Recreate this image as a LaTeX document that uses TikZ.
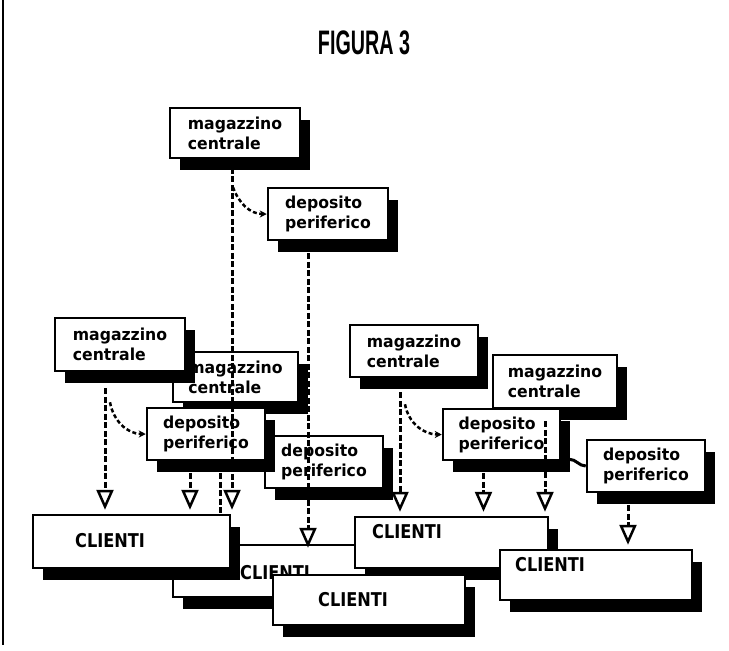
\documentclass[tikz,border=0pt]{standalone}
\usepackage{fontspec}
\usetikzlibrary{shadows,arrows.meta,calc}
\newfontfamily\titlefont[FakeStretch=0.58]{Liberation Sans}
\newfontfamily\boxfont[FakeStretch=0.95]{DejaVu Sans}
\newfontfamily\clifont[FakeStretch=0.85]{DejaVu Sans}
\begin{document}
\begin{tikzpicture}[x=1pt,y=-1pt,
  box/.style={draw=black, line width=2.5pt, fill=white, rectangle, inner sep=0pt,
    general shadow={fill=black, shadow xshift=10pt, shadow yshift=-12pt}},
  ubox/.style={box, align=left, font=\boxfont\bfseries\fontsize{16.5}{20}\selectfont},
  cbox/.style={box},
  ctext/.style={anchor=west, inner sep=0pt, font=\clifont\bfseries\fontsize{19}{22}\selectfont},
  conn/.style={line width=3pt, dash pattern=on 6pt off 2.5pt, shorten >=4pt,
    -{Triangle[open, width=17pt, length=20pt, line width=2.5pt]}},
  plainconn/.style={line width=3pt, dash pattern=on 6pt off 2.5pt},
  curveconn/.style={line width=2.5pt, dash pattern=on 4pt off 2.5pt,
    -{Stealth[length=7pt, width=7pt]}},
  solidconn/.style={line width=3pt}
]
\fill[white] (0,0) rectangle (729,651);
\useasboundingbox (0,0) rectangle (729,651);
\draw[line width=2pt] (3,0) -- (3,645);
\node[font=\titlefont\bfseries\fontsize{34}{36}\selectfont, inner sep=0pt] (title) at (364,43) {FIGURA 3};

% upper boxes, back to front
\node[ubox, minimum width=130pt, minimum height=50pt] (M1) at (235,133) {magazzino\\centrale};
\node[ubox, minimum width=120pt, minimum height=52pt] (D1) at (328,214) {deposito\\periferico};
\node[ubox, minimum width=125pt, minimum height=50pt] (M3) at (235.5,377) {magazzino\\centrale};
\node[ubox, minimum width=130pt, minimum height=53pt] (M2) at (120,344.5) {magazzino\\centrale};
\node[ubox, minimum width=118pt, minimum height=52pt] (D3) at (324,462) {deposito\\periferico};
\node[ubox, minimum width=118pt, minimum height=52pt] (D2) at (206,434) {deposito\\periferico};
\node[ubox, minimum width=124pt, minimum height=53pt] (M5) at (555,381.5) {magazzino\\centrale};
\node[ubox, minimum width=128pt, minimum height=52pt] (M4) at (414,351) {magazzino\\centrale};
\node[ubox, minimum width=117pt, minimum height=51pt] (D4) at (501.5,434.5) {deposito\\periferico};
\node[ubox, minimum width=118pt, minimum height=52pt] (D5) at (646,466) {deposito\\periferico};

% client boxes, back to front
\node[cbox, minimum width=197pt, minimum height=52pt] (C2) at (271.5,571) {};
\node[ctext] (tC2) at (240,573) {CLIENTI};
\node[cbox, minimum width=197pt, minimum height=53pt] (C1) at (131.5,541.5) {};
\node[ctext] (tC1) at (75,541) {CLIENTI};
\node[cbox, minimum width=193pt, minimum height=51pt] (C3) at (451.5,542.5) {};
\node[ctext] (tC3) at (372,532) {CLIENTI};
\node[cbox, minimum width=192pt, minimum height=50pt] (C4) at (369,600) {};
\node[ctext] (tC4) at (318,600) {CLIENTI};
\node[cbox, minimum width=192pt, minimum height=50pt] (C5) at (596,575) {};
\node[ctext] (tC5) at (515,565) {CLIENTI};

% connectors
\draw[conn] ([xshift=-3pt]M1.south) -- ([xshift=-3pt]M1.south |- C1.north);
\draw[curveconn] ([xshift=-2pt,yshift=-28pt]M1.south) to[out=-70,in=180] (D1.west);
\draw[conn, shorten >=-4pt] ([xshift=-20pt,yshift=-12pt]D1.south) -- ([xshift=-20pt]D1.south |- C2.north);

\draw[conn] ([xshift=-15pt,yshift=-16pt]M2.south) -- ([xshift=-15pt]M2.south |- C1.north);
\draw[curveconn] ([xshift=-10pt,yshift=-30pt]M2.south) to[out=-80,in=180] (D2.west);
\draw[conn] ([xshift=-16pt,yshift=-12pt]D2.south) -- ([xshift=-16pt]D2.south |- C1.north);
\draw[plainconn] ([xshift=14pt,yshift=-12pt]D2.south) -- ([xshift=14pt]D2.south |- C1.north);

\draw[conn] ([xshift=-14pt,yshift=-14pt]M4.south) -- ([xshift=-14pt]M4.south |- C3.north);
\draw[curveconn] ([xshift=-9pt,yshift=-26pt]M4.south) to[out=-80,in=180] (D4.west);
\draw[conn] ([xshift=-18pt,yshift=-12pt]D4.south) -- ([xshift=-18pt]D4.south |- C3.north);
\draw[conn] ([xshift=-10pt,yshift=-12pt]M5.south) -- ([xshift=-10pt]M5.south |- C3.north);
\draw[solidconn] ([xshift=8pt,yshift=2pt]D4.south east) to[out=0,in=180] (D5.west);
\draw[conn] ([xshift=-18pt,yshift=-12pt]D5.south) -- ([xshift=-18pt]D5.south |- C5.north);
\end{tikzpicture}
\end{document}
